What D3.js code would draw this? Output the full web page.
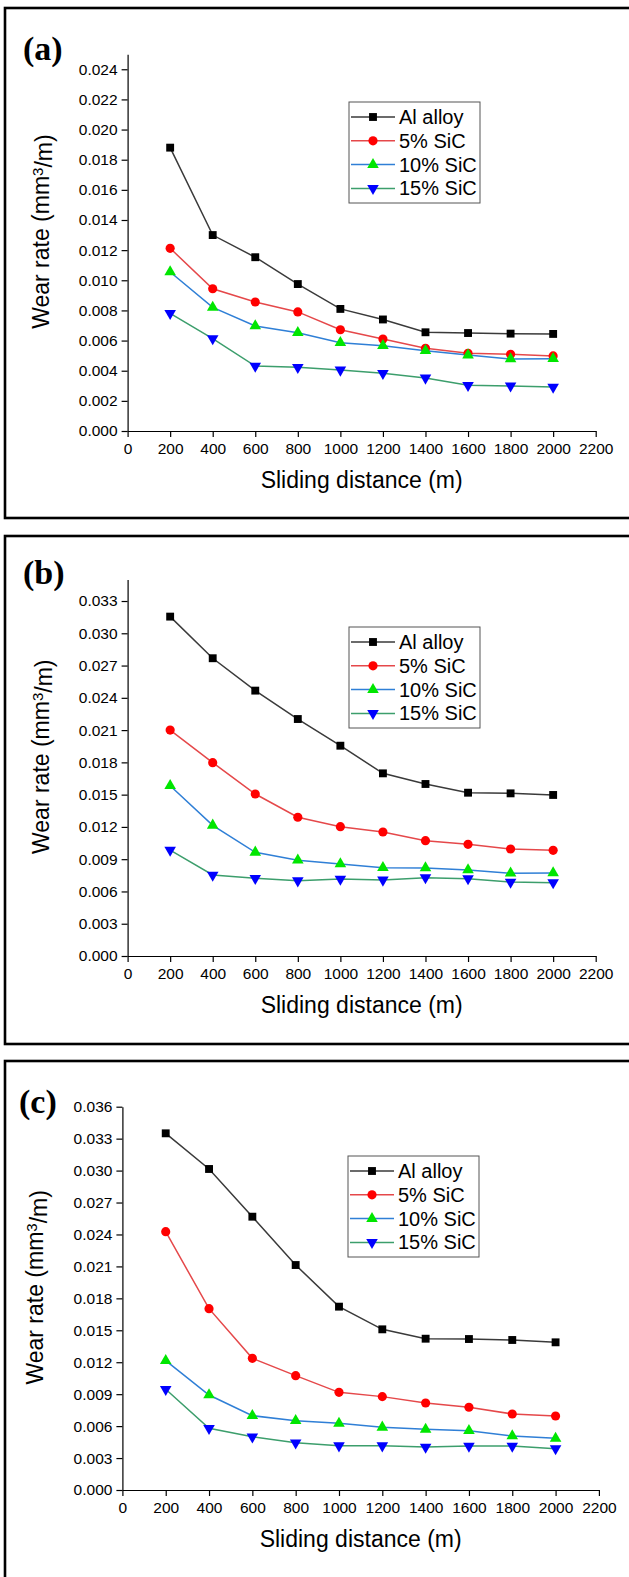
<!DOCTYPE html>
<html>
<head>
<meta charset="utf-8">
<script src="https://cdn.jsdelivr.net/npm/d3@7"></script>
<style>
  body { margin: 0; background: #fff; }
  svg { display: block; }
  text { font-family: "Liberation Sans", Arial, sans-serif; fill: #000; }
  .axis path, .axis line { stroke: #000; stroke-width: 1.2; }
  .axis text { font-size: 15.5px; }
  .panel-tag { font-family: "Liberation Serif", "Times New Roman", serif; font-weight: bold; font-size: 34px; }
</style>
</head>
<body>
<svg id="chart"></svg>
<script>
// sliding distance (m)
const distances = [200, 400, 600, 800, 1000, 1200, 1400, 1600, 1800, 2000];
const xTicks = [0, 200, 400, 600, 800, 1000, 1200, 1400, 1600, 1800, 2000, 2200];
const seriesNames = ["Al alloy", "5% SiC", "10% SiC", "15% SiC"];

// panel (a)
const alloyA = [0.0188, 0.0130, 0.01153, 0.00975, 0.0081, 0.0074, 0.00655, 0.0065, 0.00646, 0.00644];
const sic5A  = [0.01212, 0.00944, 0.00856, 0.0079, 0.00672, 0.0061, 0.00549, 0.00516, 0.00509, 0.00498];
const sic10A = [0.01055, 0.0082, 0.00697, 0.00652, 0.00586, 0.00566, 0.00533, 0.00504, 0.00478, 0.0048];
const sic15A = [0.0078, 0.00613, 0.00431, 0.00423, 0.00405, 0.00383, 0.00352, 0.00303, 0.00299, 0.00292];
const yTicksA = [0, 0.002, 0.004, 0.006, 0.008, 0.010, 0.012, 0.014, 0.016, 0.018, 0.020, 0.022, 0.024];

// panel (b)
const alloyB = [0.03155, 0.02768, 0.02467, 0.02203, 0.01955, 0.01698, 0.01599, 0.01518, 0.01512, 0.01497];
const sic5B  = [0.0210, 0.01797, 0.01506, 0.0129, 0.01202, 0.01153, 0.01072, 0.01038, 0.00995, 0.00982];
const sic10B = [0.01583, 0.01215, 0.00964, 0.0089, 0.00855, 0.00821, 0.00818, 0.0080, 0.00769, 0.00772];
const sic15B = [0.00985, 0.00753, 0.00722, 0.0070, 0.00716, 0.00707, 0.00728, 0.00719, 0.00688, 0.00682];
const yTicksB = [0, 0.003, 0.006, 0.009, 0.012, 0.015, 0.018, 0.021, 0.024, 0.027, 0.030, 0.033];

// panel (c)
const alloyC = [0.0335, 0.03015, 0.02567, 0.02113, 0.01722, 0.01509, 0.01421, 0.01418, 0.01409, 0.01387];
const sic5C  = [0.02426, 0.01703, 0.01237, 0.01074, 0.00917, 0.00877, 0.00817, 0.00777, 0.00714, 0.00695];
const sic10C = [0.01215, 0.00892, 0.00698, 0.00651, 0.00626, 0.00589, 0.0057, 0.00557, 0.00507, 0.00485];
const sic15C = [0.00946, 0.0058, 0.005, 0.00444, 0.00416, 0.00416, 0.00404, 0.00413, 0.00413, 0.00388];
const yTicksC = [0, 0.003, 0.006, 0.009, 0.012, 0.015, 0.018, 0.021, 0.024, 0.027, 0.030, 0.033, 0.036];

// styles for the four series
const styles = [
  {line: "#3a3a3a", fill: "#000000", shape: d3.symbolSquare, size: 62, rot: 0},
  {line: "#e5484a", fill: "#ff0000", shape: d3.symbolCircle, size: 66, rot: 0},
  {line: "#2f7fd6", fill: "#00e600", shape: d3.symbolTriangle, size: 58, rot: 0},
  {line: "#3c9e6c", fill: "#0000ff", shape: d3.symbolTriangle, size: 58, rot: 180}
];

const W = 629, H = 1577;
const svg = d3.select("#chart").attr("width", W).attr("height", H);

const panels = [
  {tag: "(a)", series: [alloyA, sic5A, sic10A, sic15A], yTicks: yTicksA, yMax: 0.025,
   box: [8, 518], x: [127.6, 595.7], y: [431, 54.2], tagPos: [23, 60], legend: [349, 102]},
  {tag: "(b)", series: [alloyB, sic5B, sic10B, sic15B], yTicks: yTicksB, yMax: 0.035,
   box: [536, 1044], x: [127.6, 595.7], y: [956, 579.5], tagPos: [23, 584], legend: [349, 627]},
  {tag: "(c)", series: [alloyC, sic5C, sic10C, sic15C], yTicks: yTicksC, yMax: 0.036,
   box: [1061, 1700], x: [122.4, 598.9], y: [1490, 1106.7], tagPos: [19, 1113], legend: [348, 1156]}
];

panels.forEach(p => drawPanel(p));

function drawPanel(p) {
  const g = svg.append("g");

  // frame round the panel, right side runs off the page
  g.append("rect")
    .attr("x", 5).attr("y", p.box[0])
    .attr("width", 700).attr("height", p.box[1] - p.box[0])
    .attr("fill", "none").attr("stroke", "#000").attr("stroke-width", 2.6);

  const x = d3.scaleLinear().domain([0, 2200]).range(p.x);
  const y = d3.scaleLinear().domain([0, p.yMax]).range(p.y);

  g.append("g")
    .attr("class", "axis")
    .attr("transform", `translate(0,${p.y[0]})`)
    .call(d3.axisBottom(x).tickValues(xTicks).tickSize(6).tickSizeOuter(0).tickPadding(6).tickFormat(d3.format("d")));

  g.append("g")
    .attr("class", "axis")
    .attr("transform", `translate(${p.x[0]},0)`)
    .call(d3.axisLeft(y).tickValues(p.yTicks).tickSize(6).tickSizeOuter(0).tickPadding(4).tickFormat(d3.format(".3f")));

  // axis titles
  g.append("text")
    .attr("x", (p.x[0] + p.x[1]) / 2).attr("y", p.y[0] + 57)
    .attr("text-anchor", "middle").attr("font-size", 23)
    .text("Sliding distance (m)");

  const yl = g.append("text")
    .attr("transform", `translate(${p.x[0] - 87},${(p.y[0] + p.y[1]) / 2 - 11}) rotate(-90)`)
    .attr("text-anchor", "middle").attr("dy", "0.35em").attr("font-size", 23);
  yl.append("tspan").text("Wear rate (mm");
  yl.append("tspan").attr("dy", "-0.4em").attr("font-size", 15).text("3");
  yl.append("tspan").attr("dy", "0.4em").text("/m)");

  g.append("text").attr("class", "panel-tag")
    .attr("x", p.tagPos[0]).attr("y", p.tagPos[1])
    .text(p.tag);

  const line = d3.line()
    .x((d, i) => x(distances[i]))
    .y(d => y(d));

  p.series.forEach((vals, k) => {
    const s = styles[k];
    g.append("path")
      .datum(vals)
      .attr("fill", "none")
      .attr("stroke", s.line)
      .attr("stroke-width", 1.5)
      .attr("d", line);
  });

  p.series.forEach((vals, k) => {
    const s = styles[k];
    const sym = d3.symbol().type(s.shape).size(s.size);
    g.selectAll(null)
      .data(vals)
      .join("path")
      .attr("transform", (d, i) => `translate(${x(distances[i])},${y(d)}) rotate(${s.rot})`)
      .attr("fill", s.fill)
      .attr("d", sym);
  });

  // legend
  const lg = g.append("g").attr("transform", `translate(${p.legend[0]},${p.legend[1]})`);
  lg.append("rect")
    .attr("width", 131).attr("height", 101)
    .attr("fill", "#fff").attr("stroke", "#555").attr("stroke-width", 1);
  seriesNames.forEach((name, k) => {
    const s = styles[k];
    const ry = 15 + k * 23.8;
    lg.append("line")
      .attr("x1", 2).attr("x2", 46).attr("y1", ry).attr("y2", ry)
      .attr("stroke", s.line).attr("stroke-width", 1.5);
    lg.append("path")
      .attr("transform", `translate(24,${ry}) rotate(${s.rot})`)
      .attr("fill", s.fill)
      .attr("d", d3.symbol().type(s.shape).size(s.size));
    lg.append("text")
      .attr("x", 50).attr("y", ry).attr("dy", "0.35em")
      .attr("font-size", 20)
      .text(name);
  });
}
</script>
</body>
</html>
